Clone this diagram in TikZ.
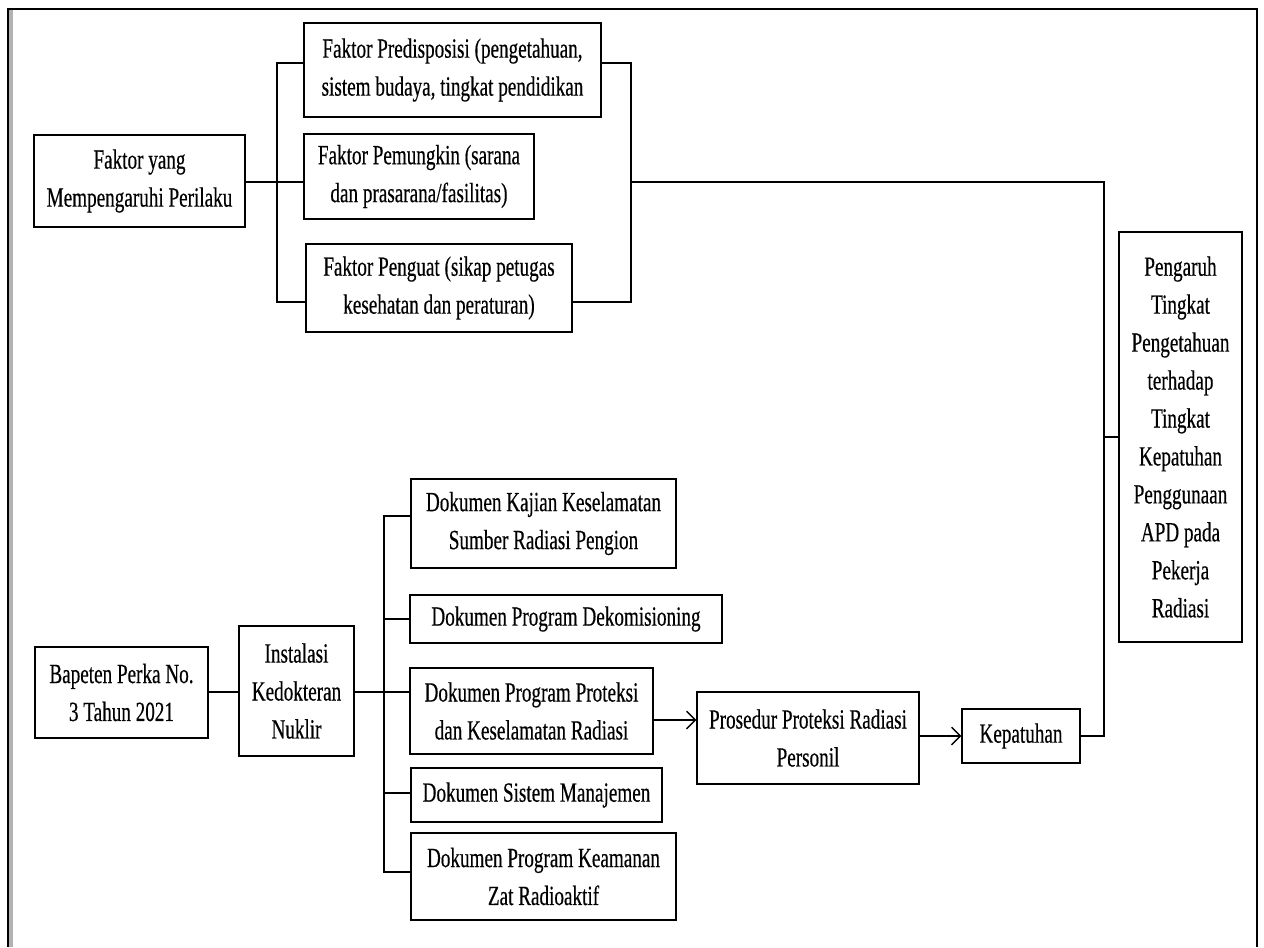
\documentclass[tikz,border=0pt]{standalone}
\usepackage{fontspec}
\usetikzlibrary{arrows.meta}
\setmainfont{Liberation Serif}[FakeStretch=0.69,FakeBold=0.4]
\begin{document}
\begin{tikzpicture}[x=0.02cm,y=-0.02cm,line width=0.8pt,
	box/.style 2 args={draw,align=center,inner sep=1pt,minimum width=#1*0.02cm,minimum height=#2*0.02cm,font=\fontsize{15.8}{21.6}\selectfont},
	arr/.style={-{Straight Barb[length=5pt,width=10pt,line width=0.8pt]}}]
		\useasboundingbox (0,0) rectangle (1264,947);
		% frame
		\draw[gray!60,line width=2pt] (11,9) -- (11,947);
		\draw (8,947) -- (8,9) -- (1257,9) -- (1257,947);
		% upper part
		\node[box={211}{92}] (fy) at (139.5,181) {Faktor yang\\Mempengaruhi Perilaku};
		\node[box={297}{94}] (pre) at (452.5,70) {Faktor Predisposisi (pengetahuan,\\sistem budaya, tingkat pendidikan};
		\node[box={230}{85}] (pem) at (419,176.5) {Faktor Pemungkin (sarana\\dan prasarana/fasilitas)};
		\node[box={266}{88}] (pen) at (439,288) {Faktor Penguat (sikap petugas\\kesehatan dan peraturan)};
		\coordinate (lb) at (277,182);
		\coordinate (rb) at (631,182);
		\draw (fy.east |- lb) -- (lb) -- (pem.west |- lb);
		\draw (pre.west |- 0,63) -| (lb) |- (pen.west |- 0,302);
		\draw (pre.east |- 0,63) -| (rb) |- (pen.east |- 0,302);
		% right box
		\node[box={123}{410}] (pg) at (1180.5,437) {Pengaruh\\Tingkat\\Pengetahuan\\terhadap\\Tingkat\\Kepatuhan\\Penggunaan\\APD pada\\Pekerja\\Radiasi};
		% lower part
		\node[box={173}{91}] (bap) at (121.5,692.5) {Bapeten Perka No.\\3 Tahun 2021};
		\node[box={115}{130}] (ins) at (296.5,691) {Instalasi\\Kedokteran\\Nuklir};
		\node[box={265}{89}] (kaj) at (543.5,523.5) {Dokumen Kajian Keselamatan\\Sumber Radiasi Pengion};
		\node[box={312}{48}] (dek) at (566,619) {Dokumen Program Dekomisioning};
		\node[box={243}{86}] (ppk) at (531.5,711) {Dokumen Program Proteksi\\dan Keselamatan Radiasi};
		\node[box={251}{54}] (sm) at (536.5,795) {Dokumen Sistem Manajemen};
		\node[box={265}{87}] (kz) at (543.5,876.5) {Dokumen Program Keamanan\\Zat Radioaktif};
		\node[box={222}{92}] (pros) at (808,738) {Prosedur Proteksi Radiasi\\Personil};
		\node[box={118}{54}] (kep) at (1021,736) {Kepatuhan};
		\coordinate (db) at (384,692);
		\draw (bap.east |- db) -- (ins.west |- db);
		\draw (ins.east |- db) -- (ppk.west |- db);
		\draw (kaj.west |- 0,516) -| (db) |- (kz.west |- 0,872);
		\draw (dek.west) -- (dek.west -| db);
		\draw (sm.west |- 0,793) -- (db |- 0,793);
		\draw[arr] (ppk.east |- 0,720) -- (pros.west |- 0,720);
		\draw[arr] (pros.east |- kep) -- (kep.west);
		\coordinate (kb) at (1104,437);
		\draw (kep.east) -| (kb) |- (rb);
		\draw (kb) -- (pg.west);
	\end{tikzpicture}
\end{document}
